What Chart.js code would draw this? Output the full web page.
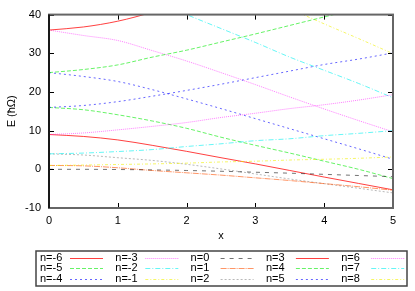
<!DOCTYPE html>
<html>
<head>
<meta charset="utf-8">
<script src="https://cdn.jsdelivr.net/npm/chart.js@4"></script>
<style>
html, body { margin: 0; padding: 0; background: #fff; }
#wrap { width: 415px; height: 291px; }
</style>
</head>
<body>
<div id="wrap"><canvas id="levelsChart" width="415" height="291"></canvas></div>
<script>
const xValues = [0, 0.5, 1, 1.5, 2, 2.5, 3, 3.5, 4, 4.5, 5];

const nLabels = ['n=-6', 'n=-5', 'n=-4', 'n=-3', 'n=-2', 'n=-1', 'n=0', 'n=1',
                 'n=2', 'n=3', 'n=4', 'n=5', 'n=6', 'n=7', 'n=8'];

// energy of each level, E (hbar Omega)
const levelM6 = [36, 36.8, 38.3, 40.6, 43.3, null, null, null, null, null, null];
const levelM5 = [25, 25.8, 27.0, 29.0, 30.8, 32.9, 35.0, 37.2, 39.4, 41.6, 43.8];
const levelM4 = [16, 16.5, 17.5, 18.9, 20.4, 22.0, 23.7, 25.4, 27.1, 28.5, 30.1];
const levelM3 = [9, 9.4, 10.2, 11.1, 12.1, 13.4, 14.5, 15.7, 16.7, 17.9, 19.3];
const levelM2 = [4, 4.2, 4.6, 5.1, 5.9, 6.6, 7.4, 7.9, 8.7, 9.3, 10.0];
const levelM1 = [1, 1.1, 1.25, 1.4, 1.6, 1.9, 2.1, 2.4, 2.6, 2.85, 3.2];
const level0 = [0, 0, -0.05, -0.15, -0.3, -0.5, -0.75, -1.0, -1.3, -1.6, -1.9];
const level1 = [1, 0.9, 0.4, -0.3, -0.9, -1.5, -2.2, -2.9, -3.7, -4.5, -5.4];
const level2 = [4, 3.7, 3.0, 2.3, 1.3, 0.1, -1.2, -2.5, -3.7, -4.9, -6.1];
const level3 = [9, 8.5, 7.6, 6.2, 4.65, 3.0, 1.4, -0.3, -2.0, -3.65, -5.3];
const level4 = [16, 15.4, 14.1, 12.5, 10.6, 8.3, 6.2, 4.2, 2.1, 0.0, -2.4];
const level5 = [25, 24.0, 22.7, 20.6, 18.2, 15.7, 13.1, 10.5, 7.9, 5.3, 2.6];
const level6 = [36, 34.6, 33.3, 30.7, 28.0, 25.0, 21.9, 18.7, 15.6, 12.6, 9.7];
const level7 = [null, null, null, 43.8, 40.0, 36.4, 32.8, 29.0, 25.6, 22.2, 18.5];
const level8 = [null, null, null, null, null, null, 45.3, 41.5, 37.6, 33.8, 29.9];

const levelSeries = [levelM6, levelM5, levelM4, levelM3, levelM2, levelM1, level0,
                     level1, level2, level3, level4, level5, level6, level7, level8];

const yTicks = [-10, 0, 10, 20, 30, 40];
const xTicks = [0, 1, 2, 3, 4, 5];

// postscript style line types, repeating every 9
const lineColors = ['rgba(255,0,0,0.75)', 'rgba(0,235,0,0.6)', 'rgba(0,0,255,0.6)',
                    'rgba(255,0,255,0.5)', 'rgba(0,240,240,0.6)', 'rgba(240,240,0,0.6)',
                    'rgba(0,0,0,0.55)', 'rgba(255,80,0,0.6)', 'rgba(128,128,128,0.55)'];
const lineDashes = [[], [4, 2], [2, 3], [1, 1], [5, 2, 1, 2], [3, 2, 1, 2],
                    [4, 5], [6, 1, 1, 1], [2, 2]];

const labelFont = { family: '"Liberation Sans", Arial, sans-serif', size: 11 };

const datasets = levelSeries.map(function (series, i) {
    return {
        label: nLabels[i],
        data: series.map(function (v, j) { return { x: xValues[j], y: v }; }),
        borderColor: lineColors[i % 9],
        borderDash: lineDashes[i % 9],
        borderWidth: 1,
        pointRadius: 0,
        fill: false,
        cubicInterpolationMode: 'monotone',
        spanGaps: false
    };
});

// border box with inward ticks on all four sides
const framePlugin = {
    id: 'frame',
    afterDatasetsDraw(chart) {
        const { ctx, chartArea: a, scales } = chart;
        ctx.save();
        ctx.setLineDash([]);
        ctx.strokeStyle = '#000';
        ctx.lineWidth = 1;
        ctx.beginPath();
        xTicks.forEach(function (t) {
            const px = Math.round(scales.x.getPixelForValue(t)) + 0.5;
            ctx.moveTo(px, a.bottom); ctx.lineTo(px, a.bottom - 5);
            ctx.moveTo(px, a.top); ctx.lineTo(px, a.top + 5);
        });
        yTicks.forEach(function (t) {
            const py = Math.round(scales.y.getPixelForValue(t)) + 0.5;
            ctx.moveTo(a.left, py); ctx.lineTo(a.left + 5, py);
            ctx.moveTo(a.right, py); ctx.lineTo(a.right - 5, py);
        });
        ctx.stroke();
        ctx.strokeStyle = '#666';
        ctx.lineWidth = 2;
        ctx.strokeRect(a.left, a.top, a.right - a.left, a.bottom - a.top);
        ctx.strokeStyle = '#000';
        ctx.lineWidth = 1.5;
        ctx.beginPath();
        ctx.moveTo(a.left, a.top); ctx.lineTo(a.left, a.bottom);
        ctx.stroke();
        ctx.restore();
    }
};

// gnuplot-like key: text first, sample after, filled column by column
const keyPlugin = {
    id: 'key',
    afterDraw(chart) {
        const ctx = chart.ctx;
        ctx.save();
        ctx.strokeStyle = '#444';
        ctx.lineWidth = 1.5;
        ctx.strokeRect(36, 251, 371, 35);
        ctx.font = '11px "Liberation Sans", Arial, sans-serif';
        ctx.fillStyle = '#000';
        ctx.textBaseline = 'middle';
        ctx.textAlign = 'left';
        chart.data.datasets.forEach(function (ds, i) {
            const col = Math.floor(i / 3), row = i % 3;
            const tx = 40 + col * 75.3, ty = 257.5 + row * 10.8;
            ctx.fillText(ds.label, tx, ty);
            ctx.beginPath();
            ctx.setLineDash(ds.borderDash);
            ctx.strokeStyle = ds.borderColor;
            ctx.lineWidth = 1;
            ctx.moveTo(tx + 30, Math.round(ty) + 0.5);
            ctx.lineTo(tx + 63, Math.round(ty) + 0.5);
            ctx.stroke();
        });
        ctx.restore();
    }
};

const ctx = document.getElementById('levelsChart').getContext('2d');
const levelsChart = new Chart(ctx, {
    type: 'line',
    data: { datasets: datasets },
    options: {
        responsive: false,
        animation: false,
        events: [],
        layout: { padding: { top: 14, right: 22, bottom: 43, left: 0 } },
        plugins: {
            legend: { display: false },
            tooltip: { enabled: false }
        },
        scales: {
            x: {
                type: 'linear',
                min: 0,
                max: 5,
                grid: { display: false, drawTicks: false },
                border: { display: false },
                ticks: { stepSize: 1, color: '#000', font: labelFont, padding: 6, maxRotation: 0 },
                title: { display: true, text: 'x', color: '#000', font: labelFont, padding: { top: 0, bottom: 5 } },
                afterFit: function (scale) { scale.height = 40; }
            },
            y: {
                type: 'linear',
                min: -10,
                max: 40,
                grid: { display: false, drawTicks: false },
                border: { display: false },
                ticks: { stepSize: 10, color: '#000', font: labelFont, padding: 8 },
                title: { display: true, text: 'E (ħΩ)', color: '#000', font: labelFont, padding: { top: 5, bottom: 0 } },
                afterFit: function (scale) { scale.width = 49; }
            }
        }
    },
    plugins: [framePlugin, keyPlugin]
});
</script>
</body>
</html>
